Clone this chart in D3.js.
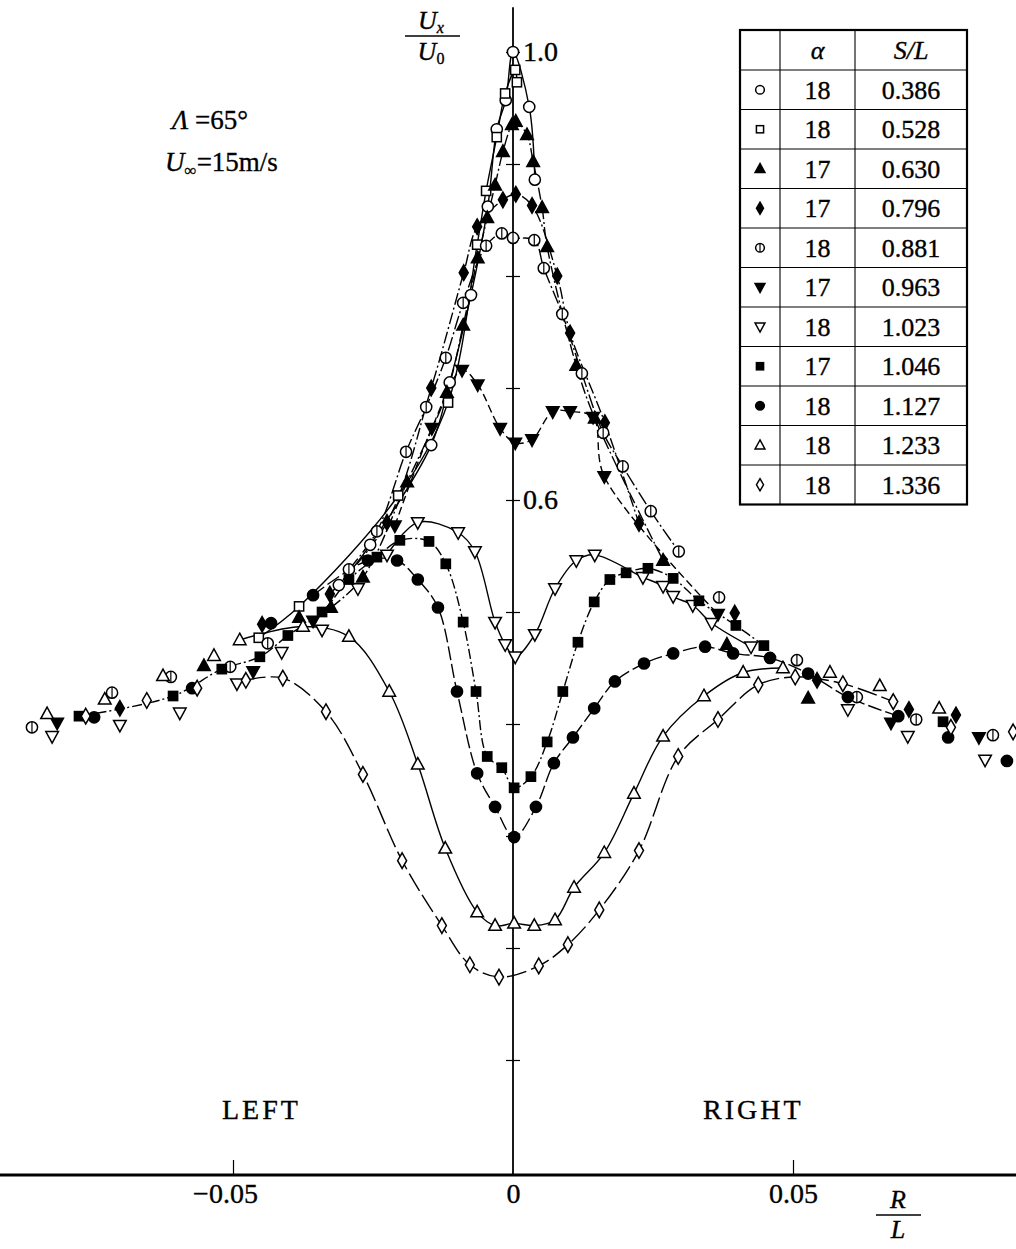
<!DOCTYPE html>
<html>
<head>
<meta charset="utf-8">
<script src="https://cdn.jsdelivr.net/npm/d3@7"></script>
<style>
  html, body { margin: 0; padding: 0; background: #fff; }
  svg { display: block; }
  text { font-family: "Liberation Serif", "Times New Roman", "DejaVu Serif", serif; fill: #000; stroke: #000; stroke-width: 0.35px; }
</style>
</head>
<body>
<svg id="chart" width="1016" height="1249"></svg>
<script>
// ---------------- data ----------------
// legend rows: marker, attack angle alpha (deg), station S/L
const sOverL   = ["0.386", "0.528", "0.630", "0.796", "0.881", "0.963", "1.023", "1.046", "1.127", "1.233", "1.336"];
const alphaDeg = ["18", "18", "17", "17", "18", "17", "18", "17", "18", "18", "18"];
const markerKinds = ["circleOpen", "squareOpen", "triUpFilled", "diamondFilled", "circleBar",
                     "triDownFilled", "triDownOpen", "squareFilled", "circleFilled", "triUpOpen", "diamondOpen"];

// measured profiles, [R/L, Ux/U0]
const p0386 = [[-0.0311,0.524],[-0.0255,0.560],[-0.0146,0.649],[-0.0113,0.705],[-0.0075,0.783],[-0.0045,0.862],
  [-0.0029,0.931],[-0.0013,0.957],[0,1.000],[0.0029,0.951],[0.0039,0.886]];
const p0528 = [[-0.0454,0.477],[-0.0382,0.505],[-0.0205,0.604],[-0.0116,0.687],[-0.0064,0.828],[-0.0048,0.876],
  [-0.0029,0.924],[-0.0014,0.963],[0.0004,0.984],[0.0007,0.973]];
const p0630 = [[-0.0552,0.452],[-0.0382,0.495],[-0.0325,0.504],[-0.0268,0.531],[-0.0189,0.616],[-0.0118,0.696],
  [-0.0089,0.756],[-0.0063,0.816],[-0.0046,0.852],[-0.0032,0.881],[-0.0018,0.911],[-0.0002,0.935],[0.0005,0.938],
  [0.0025,0.926],[0.0036,0.902],[0.0052,0.861],[0.0061,0.826],[0.0113,0.720],[0.0146,0.673],[0.0268,0.546],
  [0.0382,0.471],[0.0527,0.423]];
const p0796 = [[-0.0702,0.414],[-0.0448,0.489],[-0.0327,0.516],[-0.0225,0.580],[-0.0146,0.700],[-0.0088,0.803],
  [-0.0064,0.844],[-0.0018,0.868],[0.0005,0.873],[0.0034,0.863],[0.0079,0.800],[0.0102,0.749],[0.0164,0.669],
  [0.0225,0.579],[0.0396,0.499],[0.0543,0.439],[0.0707,0.413],[0.0791,0.408]];
const p0881 = [[-0.0859,0.397],[-0.0716,0.428],[-0.0611,0.442],[-0.0505,0.451],[-0.0438,0.472],[-0.0293,0.538],
  [-0.0243,0.572],[-0.0191,0.643],[-0.0155,0.683],[-0.0120,0.727],[-0.0089,0.776],[-0.0048,0.827],[-0.0020,0.838],
  [0,0.834],[0.0038,0.832],[0.0055,0.807],[0.0088,0.766],[0.0123,0.713],[0.0161,0.660],[0.0196,0.630],
  [0.0246,0.590],[0.0296,0.554],[0.0368,0.513],[0.0507,0.457],[0.0614,0.424],[0.0720,0.404],[0.0857,0.390]];
const p0963 = [[-0.0814,0.401],[-0.0464,0.447],[-0.0357,0.492],[-0.0211,0.577],[-0.0145,0.664],[-0.0091,0.716],
  [-0.0063,0.703],[-0.0023,0.664],[0.0004,0.651],[0.0034,0.654],[0.0071,0.679],[0.0102,0.679],[0.0143,0.674],
  [0.0163,0.621],[0.0366,0.498],[0.0675,0.401],[0.0832,0.388]];
const p1023 = [[-0.0823,0.389],[-0.0702,0.399],[-0.0595,0.410],[-0.0493,0.436],[-0.0413,0.464],[-0.0341,0.484],
  [-0.0277,0.521],[-0.0225,0.551],[-0.0170,0.580],[-0.0098,0.571],[-0.0068,0.554],[-0.0032,0.491],[-0.0014,0.471],
  [0.0004,0.460],[0.0039,0.480],[0.0075,0.521],[0.0113,0.546],[0.0146,0.551],[0.0232,0.531],[0.0268,0.523],
  [0.0286,0.514],[0.0321,0.506],[0.0355,0.490],[0.0425,0.469],[0.0598,0.413],[0.0705,0.389],[0.0843,0.368]];
const p1046 = [[-0.0775,0.407],[-0.0607,0.425],[-0.0520,0.449],[-0.0452,0.460],[-0.0402,0.479],[-0.0341,0.500],
  [-0.0293,0.529],[-0.0243,0.549],[-0.0202,0.564],[-0.0150,0.563],[-0.0120,0.543],[-0.0089,0.491],[-0.0066,0.429],
  [-0.0046,0.371],[-0.0020,0.361],[0.0002,0.343],[0.0032,0.353],[0.0061,0.384],[0.0089,0.429],[0.0116,0.473],
  [0.0145,0.509],[0.0173,0.529],[0.0202,0.535],[0.0241,0.539],[0.0286,0.530],[0.0332,0.510],[0.0398,0.488],
  [0.0448,0.470],[0.0768,0.402]];
const p1127 = [[-0.0748,0.406],[-0.0573,0.432],[-0.0432,0.490],[-0.0357,0.515],[-0.0259,0.546],[-0.0207,0.546],
  [-0.0170,0.529],[-0.0134,0.504],[-0.0100,0.429],[-0.0064,0.356],[-0.0032,0.326],[0.0002,0.299],[0.0041,0.326],
  [0.0073,0.365],[0.0107,0.388],[0.0145,0.414],[0.0182,0.438],[0.0234,0.454],[0.0286,0.463],[0.0343,0.469],
  [0.0393,0.463],[0.0459,0.459],[0.0527,0.445],[0.0598,0.424],[0.0688,0.407],[0.0777,0.388],[0.0882,0.367]];
const p1233 = [[-0.0832,0.409],[-0.0729,0.422],[-0.0625,0.443],[-0.0534,0.461],[-0.0488,0.475],[-0.0375,0.487],
  [-0.0293,0.478],[-0.0221,0.429],[-0.0170,0.364],[-0.0121,0.289],[-0.0064,0.232],[-0.0032,0.220],[0.0002,0.222],
  [0.0038,0.220],[0.0075,0.225],[0.0109,0.254],[0.0163,0.285],[0.0216,0.338],[0.0268,0.389],[0.0341,0.425],
  [0.0411,0.446],[0.0482,0.450],[0.0566,0.446],[0.0655,0.434],[0.0761,0.414]];
const p1336 = [[-0.0763,0.407],[-0.0654,0.421],[-0.0564,0.432],[-0.0477,0.439],[-0.0411,0.441],[-0.0334,0.411],
  [-0.0268,0.355],[-0.0198,0.278],[-0.0127,0.220],[-0.0077,0.185],[-0.0025,0.174],[0.0046,0.184],[0.0098,0.203],
  [0.0154,0.234],[0.0225,0.287],[0.0295,0.371],[0.0366,0.404],[0.0438,0.435],[0.0504,0.442],[0.0589,0.436],
  [0.0679,0.420],[0.0782,0.397],[0.0893,0.393]];

// fitted-curve extent along R/L for each profile
const curveFrom = [-0.032, -0.046, -0.033, -0.033, -0.030, -0.022, -0.023, -0.078, -0.036, -0.049, -0.048];
const curveTo   = [ 0.004,  0.001,  0.027,  0.023,  0.030,  0.037,  0.043,  0.045,  0.069,  0.049,  0.068];

// axes
const xTicks = [-0.05, 0, 0.05];
const xTickLabels = ["\u22120.05", "0", "0.05"];
const yTicks = [0.1, 0.2, 0.3, 0.4, 0.5, 0.6, 0.7, 0.8, 0.9, 1.0];
const yLabelled = [0.6, 1.0];

// ---------------- drawing ----------------
const profiles = [p0386, p0528, p0630, p0796, p0881, p0963, p1023, p1046, p1127, p1233, p1336];
const dashes = [null, null, "12,3,2,3", "12,3,2,3", "14,3,2,3", "8,4", null, "10,3,2,3", "14,4", null, "20,5"];

const svg = d3.select("#chart");
const x = d3.scaleLinear().domain([-0.05, 0.05]).range([233, 793]);
const y = d3.scaleLinear().domain([0, 1]).range([1172, 52]);

// horizontal axis: heavy rule across the page
const xAxis = d3.axisBottom(x).tickValues(xTicks).tickSize(-15).tickPadding(8)
  .tickFormat((d, i) => xTickLabels[i]);
const gx = svg.append("g").attr("transform", `translate(0,${y(0) + 3})`).call(xAxis);
gx.select(".domain").remove();
gx.append("line").attr("x1", 0).attr("x2", 1016).attr("y1", 0).attr("y2", 0)
  .attr("stroke", "#000").attr("stroke-width", 3);
gx.selectAll(".tick line").attr("stroke-width", 1.2);
gx.selectAll(".tick").filter(d => d === 0).select("line").remove();
gx.selectAll(".tick text").attr("font-size", 28).attr("font-family", "Liberation Serif, serif")
  .attr("fill", "#000").attr("stroke", "#000").attr("stroke-width", 0.35)
  .attr("dx", d => d < 0 ? -8 : 0);   // keep the digits centred under negative ticks

// vertical axis through R/L = 0, with cross ticks
const gyL = svg.append("g").attr("transform", `translate(${x(0)},0)`)
  .call(d3.axisLeft(y).tickValues(yTicks).tickSize(7).tickFormat(""));
const gyR = svg.append("g").attr("transform", `translate(${x(0)},0)`)
  .call(d3.axisRight(y).tickValues(yTicks).tickSize(7).tickPadding(3)
    .tickFormat(d => yLabelled.some(v => Math.abs(v - d) < 1e-9) ? d.toFixed(1) : ""));
[gyL, gyR].forEach(g => { g.select(".domain").remove(); g.selectAll(".tick line").attr("stroke-width", 1.2); });
gyR.selectAll(".tick text").attr("font-size", 28).attr("font-family", "Liberation Serif, serif")
  .attr("fill", "#000").attr("stroke", "#000").attr("stroke-width", 0.35);
svg.append("line").attr("x1", x(0)).attr("x2", x(0)).attr("y1", y(1.04)).attr("y2", y(0) + 3)
  .attr("stroke", "#000").attr("stroke-width", 1.8);

// fitted curves
const line = d3.line().x(d => x(d[0])).y(d => y(d[1])).curve(d3.curveCatmullRom.alpha(0.5));
const gCurves = svg.append("g").attr("fill", "none").attr("stroke", "#000").attr("stroke-width", 1.4);
profiles.forEach((pts, i) => {
  const seg = pts.filter(p => p[0] >= curveFrom[i] - 1e-9 && p[0] <= curveTo[i] + 1e-9);
  gCurves.append("path").attr("d", line(seg)).attr("stroke-dasharray", dashes[i]);
});

// marker shapes
function drawMarker(g, kind, s) {
  const sw = 1.5;
  const open = k => k.endsWith("Open") || k === "circleBar";
  const fill = open(kind) ? "#fff" : "#000";
  switch (kind) {
    case "circleOpen": case "circleFilled":
      g.append("circle").attr("r", 5.6 * s).attr("fill", fill).attr("stroke", "#000").attr("stroke-width", sw); break;
    case "circleBar":
      g.append("circle").attr("r", 5.6 * s).attr("fill", "#fff").attr("stroke", "#000").attr("stroke-width", sw);
      g.append("line").attr("y1", -5.6 * s).attr("y2", 5.6 * s).attr("stroke", "#000").attr("stroke-width", 1.2); break;
    case "squareOpen": case "squareFilled":
      g.append("rect").attr("x", -4.6 * s).attr("y", -4.6 * s).attr("width", 9.2 * s).attr("height", 9.2 * s)
        .attr("fill", fill).attr("stroke", "#000").attr("stroke-width", sw); break;
    case "triUpOpen": case "triUpFilled":
      g.append("path").attr("d", `M0,${-6.8 * s}L${6.3 * s},${4.7 * s}L${-6.3 * s},${4.7 * s}Z`)
        .attr("fill", fill).attr("stroke", "#000").attr("stroke-width", sw); break;
    case "triDownOpen": case "triDownFilled":
      g.append("path").attr("d", `M0,${6.8 * s}L${6.3 * s},${-4.7 * s}L${-6.3 * s},${-4.7 * s}Z`)
        .attr("fill", fill).attr("stroke", "#000").attr("stroke-width", sw); break;
    case "diamondOpen": case "diamondFilled":
      g.append("path").attr("d", `M0,${-7.8 * s}L${4.5 * s},0L0,${7.8 * s}L${-4.5 * s},0Z`)
        .attr("fill", fill).attr("stroke", "#000").attr("stroke-width", sw); break;
  }
}

// data markers
const gMarks = svg.append("g");
profiles.forEach((pts, i) => {
  pts.forEach(p => {
    const g = gMarks.append("g").attr("transform", `translate(${x(p[0])},${y(p[1])})`);
    drawMarker(g, markerKinds[i], 1);
  });
});

// legend table
const tbl = { x0: 740, x1: 780, x2: 855, x3: 967, top: 30, head: 70, row: 39.5 };
const gLeg = svg.append("g");
const nRows = sOverL.length;
const bottom = tbl.head + nRows * tbl.row;
gLeg.append("rect").attr("x", tbl.x0).attr("y", tbl.top).attr("width", tbl.x3 - tbl.x0).attr("height", bottom - tbl.top)
  .attr("fill", "#fff").attr("stroke", "#000").attr("stroke-width", 2.2);
[tbl.x1, tbl.x2].forEach(cx => gLeg.append("line").attr("x1", cx).attr("x2", cx).attr("y1", tbl.top).attr("y2", bottom)
  .attr("stroke", "#000").attr("stroke-width", 1.1));
d3.range(nRows).forEach(i => gLeg.append("line").attr("x1", tbl.x0).attr("x2", tbl.x3)
  .attr("y1", tbl.head + i * tbl.row).attr("y2", tbl.head + i * tbl.row).attr("stroke", "#000").attr("stroke-width", 1.1));
gLeg.append("text").attr("x", (tbl.x1 + tbl.x2) / 2).attr("y", 59).attr("text-anchor", "middle")
  .attr("font-size", 26).attr("font-style", "italic").text("\u03b1");
gLeg.append("text").attr("x", (tbl.x2 + tbl.x3) / 2).attr("y", 59).attr("text-anchor", "middle")
  .attr("font-size", 26).attr("font-style", "italic").text("S/L");
sOverL.forEach((v, i) => {
  const cy = tbl.head + (i + 0.5) * tbl.row;
  drawMarker(gLeg.append("g").attr("transform", `translate(${(tbl.x0 + tbl.x1) / 2},${cy})`), markerKinds[i], 0.78);
  gLeg.append("text").attr("x", (tbl.x1 + tbl.x2) / 2).attr("y", cy + 9).attr("text-anchor", "middle")
    .attr("font-size", 26).text(alphaDeg[i]);
  gLeg.append("text").attr("x", (tbl.x2 + tbl.x3) / 2).attr("y", cy + 9).attr("text-anchor", "middle")
    .attr("font-size", 26).text(v);
});

// flow conditions
const tA = svg.append("text").attr("x", 172).attr("y", 129).attr("font-size", 27);
tA.append("tspan").attr("font-style", "italic").text("\u039b");
tA.append("tspan").text(" =65\u00b0");
const tU = svg.append("text").attr("x", 165).attr("y", 171).attr("font-size", 27);
tU.append("tspan").attr("font-style", "italic").text("U");
tU.append("tspan").attr("font-size", 17).attr("dy", 5).text("\u221e");
tU.append("tspan").attr("dy", -5).text("=15m/s");

// vertical-axis title Ux/U0
const yt = svg.append("g");
const tUx = yt.append("text").attr("x", 431).attr("y", 29).attr("text-anchor", "middle").attr("font-size", 26);
tUx.append("tspan").attr("font-style", "italic").text("U");
tUx.append("tspan").attr("font-style", "italic").attr("font-size", 16).attr("dy", 4).text("x");
yt.append("line").attr("x1", 405).attr("x2", 460).attr("y1", 36).attr("y2", 36).attr("stroke", "#000").attr("stroke-width", 1.3);
const tU0 = yt.append("text").attr("x", 431).attr("y", 60).attr("text-anchor", "middle").attr("font-size", 26);
tU0.append("tspan").attr("font-style", "italic").text("U");
tU0.append("tspan").attr("font-size", 16).attr("dy", 4).text("0");

// horizontal-axis title R/L
svg.append("text").attr("x", 898).attr("y", 1208).attr("text-anchor", "middle").attr("font-size", 26)
  .attr("font-style", "italic").text("R");
svg.append("line").attr("x1", 876).attr("x2", 921).attr("y1", 1215).attr("y2", 1215).attr("stroke", "#000").attr("stroke-width", 1.3);
svg.append("text").attr("x", 898).attr("y", 1238).attr("text-anchor", "middle").attr("font-size", 26)
  .attr("font-style", "italic").text("L");

// side captions
svg.append("text").attr("x", 222).attr("y", 1119).attr("font-size", 28).attr("letter-spacing", 3).text("LEFT");
svg.append("text").attr("x", 703).attr("y", 1119).attr("font-size", 28).attr("letter-spacing", 3).text("RIGHT");
</script>
</body>
</html>
